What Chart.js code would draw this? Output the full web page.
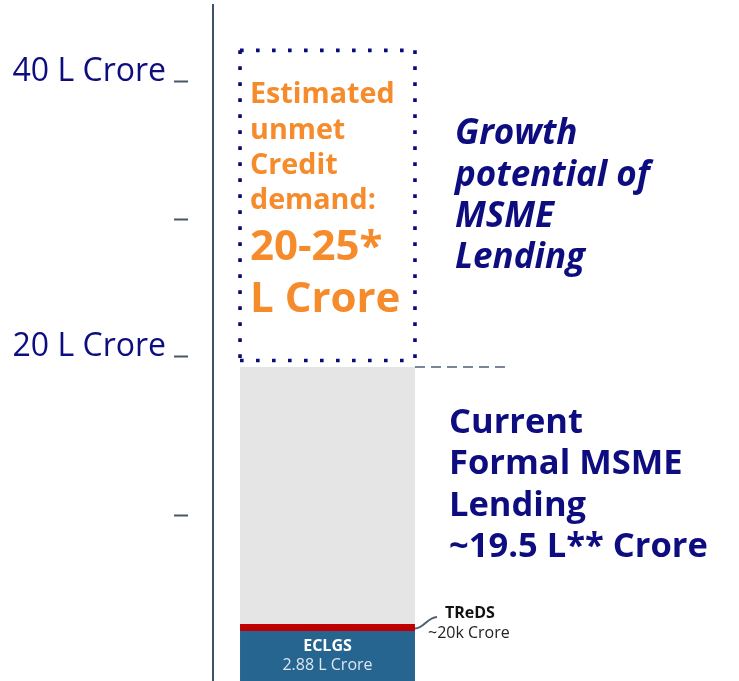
<!DOCTYPE html>
<html><head><meta charset="utf-8">
<script src="https://cdn.jsdelivr.net/npm/chart.js@4/dist/chart.umd.min.js"></script>
<style>html,body{margin:0;padding:0;background:#fff;overflow:hidden}#wrap{width:739px;height:681px;position:relative}canvas{display:block}</style>
</head><body><div id="wrap"><canvas id="c" width="739" height="681"></canvas></div>
<script>
// ---- data (L Crore) ----
const categories = ['MSME Lending'];
const eclgsValue = 2.88;          // ECLGS 2.88 L Crore
const tredsValue = 0.2;           // TReDS ~20k Crore
const currentLending = 19.5;      // ~19.5 L Crore
const unmetDemand = [20, 25];     // 20-25 L Crore
// segment extents as drawn against the axis in the picture
const eclgsSegment = [-3.56, 0.07];
const tredsSegment = [0.07, 0.58];
const currentSegment = [0.58, 19.27];
const unmetSegment = [19.75, 42.3];
const tickValues = [40, 30, 20, 8.5];
const tickLabels = ['40 L Crore', '', '20 L Crore', ''];

const NAVY = '#0d0d80', ORANGE = '#f68b2c';

const annot = {
  id: 'annot',
  afterDatasetsDraw(chart) {
    const ctx = chart.ctx;
    const box = (i) => {
      const e = chart.getDatasetMeta(i).data[0];
      return { x: e.x, L: e.x - e.width / 2, R: e.x + e.width / 2, top: Math.min(e.y, e.base), bot: Math.max(e.y, e.base) };
    };
    const ecl = box(0), tre = box(1), cur = box(2), un = box(3);
    const L = un.L, R = un.R, T = un.top, B = un.bot;
    ctx.save();
    // dotted box
    ctx.strokeStyle = '#0b0b78'; ctx.lineWidth = 3.6; ctx.setLineDash([3.6, 12.4]);
    const seg = (x1, y1, x2, y2) => { ctx.beginPath(); ctx.moveTo(x1, y1); ctx.lineTo(x2, y2); ctx.stroke(); };
    seg(L, T, R, T); seg(L, T, L, B); seg(R, T, R, B); seg(L, B, R - 4, B);
    // dashed leader at top of current lending
    ctx.strokeStyle = '#4f5f75'; ctx.lineWidth = 1.5; ctx.setLineDash([10, 6]);
    seg(R, cur.top, R + 92, cur.top);
    ctx.setLineDash([]);
    // texts inside box
    ctx.fillStyle = ORANGE; ctx.textAlign = 'left'; ctx.textBaseline = 'alphabetic';
    ctx.font = 'bold 28.7px "Open Sans"';
    const bx = L + 10;
    ['Estimated', 'unmet', 'Credit', 'demand:'].forEach((t, i) => ctx.fillText(t, bx, T + [53, 89, 124, 159][i]));
    ctx.font = 'bold 42px "Open Sans"';
    ctx.fillText(unmetDemand[0] + '-' + unmetDemand[1] + '*', bx, T + 210);
    ctx.fillText('L Crore', bx, T + 262);
    // growth potential text
    ctx.fillStyle = NAVY; ctx.font = 'italic bold 35px "Open Sans"';
    ['Growth', 'potential of', 'MSME', 'Lending'].forEach((t, i) => ctx.fillText(t, R + 40, T + [94, 136, 177, 218][i]));
    // current lending text
    ctx.font = 'bold 34.5px "Open Sans"';
    ['Current', 'Formal MSME', 'Lending', '~' + currentLending + ' L** Crore'].forEach((t, i) => ctx.fillText(t, R + 34, cur.top + [66, 107, 149, 190][i]));
    // ECLGS text
    ctx.textAlign = 'center';
    ctx.fillStyle = '#ffffff'; ctx.font = 'bold 16px "Open Sans"';
    ctx.fillText('ECLGS', ecl.x, ecl.top + 20);
    ctx.fillStyle = '#dde7f0'; ctx.font = '16px "Open Sans"';
    ctx.fillText(eclgsValue.toFixed(2) + ' L Crore', ecl.x, ecl.top + 39);
    // TReDS callout
    const ty = (tre.top + tre.bot) / 2;
    ctx.strokeStyle = '#4f6075'; ctx.lineWidth = 2;
    ctx.beginPath(); ctx.moveTo(R, ty + 1); ctx.bezierCurveTo(R + 9, ty + 1, R + 12, ty - 10, R + 22, ty - 10.5); ctx.stroke();
    ctx.textAlign = 'left';
    ctx.fillStyle = '#111111'; ctx.font = 'bold 16px "Open Sans"';
    ctx.fillText('TReDS', R + 30, tre.top - 6);
    ctx.fillStyle = '#222222'; ctx.font = '16px "Open Sans"';
    ctx.fillText('~' + Math.round(tredsValue * 100) + 'k Crore', R + 13, tre.top + 14);
    ctx.restore();
  }
};

new Chart(document.getElementById('c'), {
  type: 'bar',
  data: {
    labels: categories,
    datasets: [
      { label: 'ECLGS', data: [eclgsSegment], backgroundColor: '#26658f' },
      { label: 'TReDS', data: [tredsSegment], backgroundColor: '#c00000' },
      { label: 'Current Formal MSME Lending', data: [currentSegment], backgroundColor: '#e5e5e5' },
      { label: 'Estimated unmet Credit demand', data: [unmetSegment], backgroundColor: 'rgba(0,0,0,0)' }
    ]
  },
  options: {
    responsive: false,
    devicePixelRatio: 1,
    animation: false,
    layout: { padding: { top: 5, right: 297, bottom: 0, left: 0 } },
    categoryPercentage: 1,
    barPercentage: 0.764,
    plugins: { legend: { display: false }, tooltip: { enabled: false } },
    scales: {
      x: { display: false, stacked: true },
      y: {
        stacked: false,
        min: -3.564, max: 45.6,
        afterFit(s) { s.width = 213; s.paddingTop = 0; s.paddingBottom = 0; },
        afterBuildTicks(s) { s.ticks = tickValues.map(v => ({ value: v })); },
        border: { display: true, color: '#3f5169', width: 2 },
        grid: { display: true, drawOnChartArea: false, drawTicks: true, tickLength: 39, tickColor: '#4a5568', tickWidth: 2, tickBorderDash: [14, 60] },
        ticks: {
          padding: 8, labelOffset: -10, color: NAVY,
          font: { family: 'Open Sans', size: 32 },
          callback(v, i) { return tickLabels[i]; }
        }
      }
    }
  },
  plugins: [annot]
});
</script>
</body></html>
